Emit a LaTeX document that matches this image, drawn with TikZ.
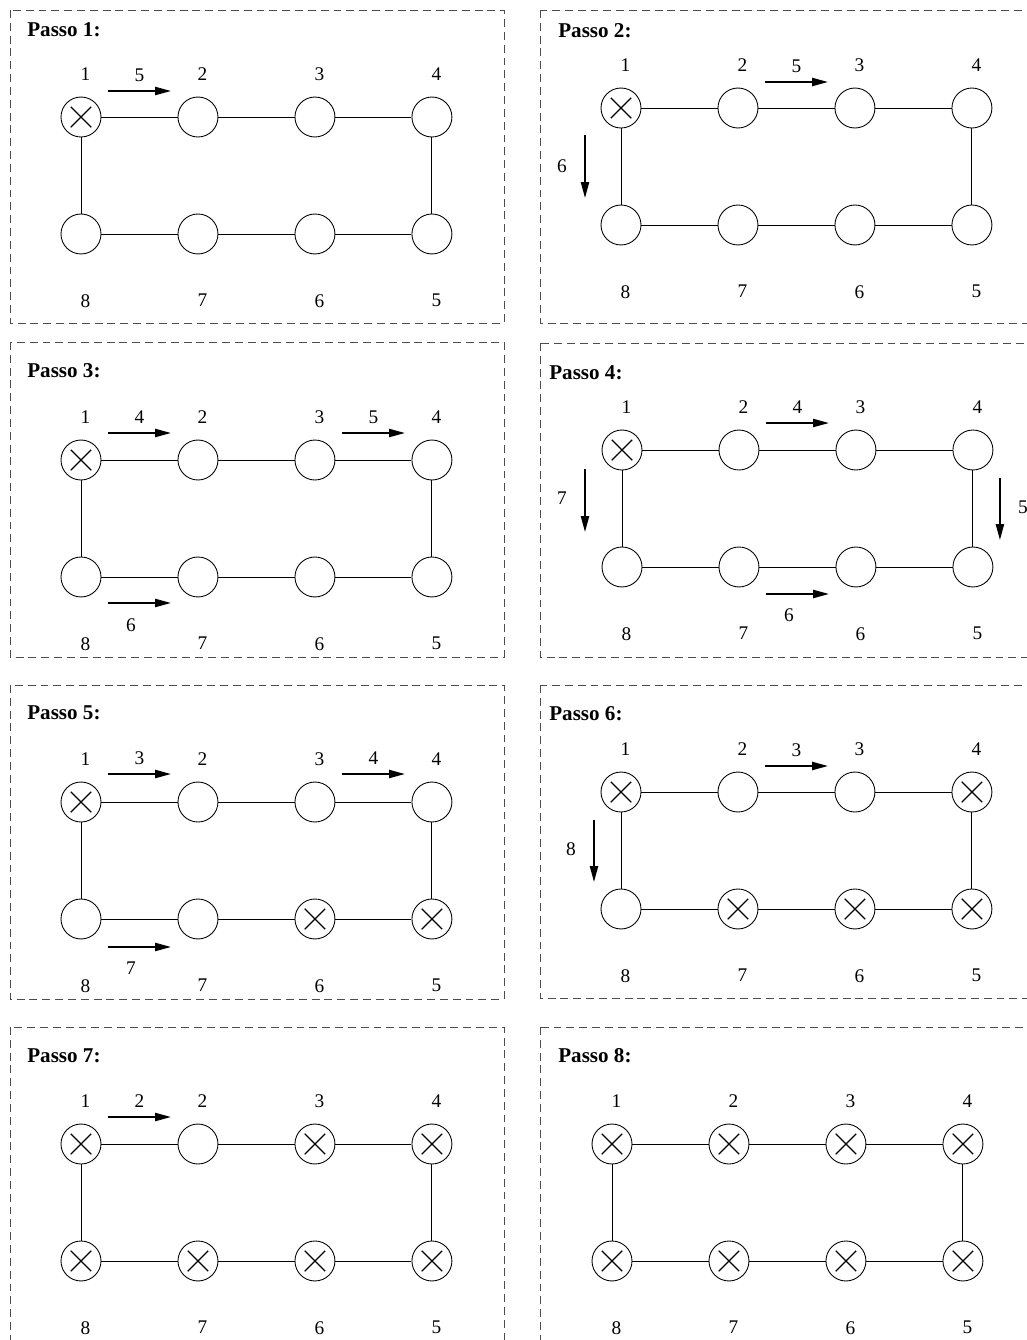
\documentclass[tikz,border=0pt]{standalone}
\usepackage{fontspec}
\setmainfont{Liberation Serif}
\usepackage{tikz}
\usetikzlibrary{positioning, arrows.meta}
\definecolor{framegray}{HTML}{4D4D4D}

\begin{document}
\begin{tikzpicture}[
    x=0.02cm, y=-0.02cm,
    node distance=2.34cm, on grid,
    ring/.style={draw, circle, minimum size=0.8cm, inner sep=0pt, line width=0.5pt},
    done/.style={ring, path picture={
        \draw[line width=0.7pt]
            ([shift={(-0.205cm,-0.205cm)}]path picture bounding box.center) -- ([shift={(0.205cm,0.205cm)}]path picture bounding box.center)
            ([shift={(-0.205cm,0.205cm)}]path picture bounding box.center) -- ([shift={(0.205cm,-0.205cm)}]path picture bounding box.center);}},
    toplbl/.style={font=\fontsize{11}{13}\selectfont, inner sep=0pt, xshift=0.09cm, yshift=0.31cm},
    botlbl/.style={font=\fontsize{11}{13}\selectfont, inner sep=0pt, xshift=0.09cm, yshift=-0.79cm},
    steplbl/.style={font=\fontsize{11}{13}\selectfont, inner sep=0pt},
    title/.style={font=\fontsize{12}{14}\selectfont\bfseries, anchor=west, inner sep=0pt},
    frame/.style={draw=framegray, dash pattern=on 4.5pt off 2.8pt, line width=0.5pt},
    link/.style={line width=0.5pt},
    move/.style={-{Triangle[length=9pt, width=4.6pt]}, line width=1pt},
]
\useasboundingbox (0,0) rectangle (1027,1340);
\clip (0,0) rectangle (1027,1340);

% ============================================================
% Passo 1
% ============================================================
\draw[frame] (10,10) rectangle (504,323);
\node[title] (p1-title) at (27,30) {Passo 1:};
\node[done, label={[toplbl, name=p1-t1]above:1}] (p1-n1) at (81,117) {};
\node[ring, right=of p1-n1, label={[toplbl, name=p1-t2]above:2}] (p1-n2) {};
\node[ring, right=of p1-n2, label={[toplbl, name=p1-t3]above:3}] (p1-n3) {};
\node[ring, right=of p1-n3, label={[toplbl, name=p1-t4]above:4}] (p1-n4) {};
\node[ring, below=of p1-n4, label={[botlbl, name=p1-b5]below:5}] (p1-n5) {};
\node[ring, left=of p1-n5, label={[botlbl, name=p1-b6]below:6}] (p1-n6) {};
\node[ring, left=of p1-n6, label={[botlbl, name=p1-b7]below:7}] (p1-n7) {};
\node[ring, left=of p1-n7, label={[botlbl, name=p1-b8]below:8}] (p1-n8) {};
\draw[link] (p1-n1) -- (p1-n2) -- (p1-n3) -- (p1-n4) -- (p1-n5) -- (p1-n6) -- (p1-n7) -- (p1-n8) -- (p1-n1);
\draw[move] ([shift={(27,-26)}]p1-n1.center) -- ([shift={(90,-26)}]p1-n1.center)
    node[steplbl, midway, yshift=0.31cm] (p1-m1) {5};

% ============================================================
% Passo 2
% ============================================================
\draw[frame] (540,10) rectangle (1045,323);
\node[title] (p2-title) at (558,31) {Passo 2:};
\node[done, label={[toplbl, name=p2-t1]above:1}] (p2-n1) at (621,108) {};
\node[ring, right=of p2-n1, label={[toplbl, name=p2-t2]above:2}] (p2-n2) {};
\node[ring, right=of p2-n2, label={[toplbl, name=p2-t3]above:3}] (p2-n3) {};
\node[ring, right=of p2-n3, label={[toplbl, name=p2-t4]above:4}] (p2-n4) {};
\node[ring, below=of p2-n4, label={[botlbl, name=p2-b5]below:5}] (p2-n5) {};
\node[ring, left=of p2-n5, label={[botlbl, name=p2-b6]below:6}] (p2-n6) {};
\node[ring, left=of p2-n6, label={[botlbl, name=p2-b7]below:7}] (p2-n7) {};
\node[ring, left=of p2-n7, label={[botlbl, name=p2-b8]below:8}] (p2-n8) {};
\draw[link] (p2-n1) -- (p2-n2) -- (p2-n3) -- (p2-n4) -- (p2-n5) -- (p2-n6) -- (p2-n7) -- (p2-n8) -- (p2-n1);
\draw[move] ([shift={(27,-26)}]p2-n2.center) -- ([shift={(90,-26)}]p2-n2.center)
    node[steplbl, midway, yshift=0.31cm] (p2-m1) {5};
\draw[move] ([shift={(-36,27)}]p2-n1.center) -- ([shift={(-36,90)}]p2-n1.center)
    node[steplbl, midway, xshift=-0.46cm] (p2-m2) {6};

% ============================================================
% Passo 3
% ============================================================
\draw[frame] (10,342) rectangle (504,657);
\node[title] (p3-title) at (27,371) {Passo 3:};
\node[done, label={[toplbl, name=p3-t1]above:1}] (p3-n1) at (81,460) {};
\node[ring, right=of p3-n1, label={[toplbl, name=p3-t2]above:2}] (p3-n2) {};
\node[ring, right=of p3-n2, label={[toplbl, name=p3-t3]above:3}] (p3-n3) {};
\node[ring, right=of p3-n3, label={[toplbl, name=p3-t4]above:4}] (p3-n4) {};
\node[ring, below=of p3-n4, label={[botlbl, name=p3-b5]below:5}] (p3-n5) {};
\node[ring, left=of p3-n5, label={[botlbl, name=p3-b6]below:6}] (p3-n6) {};
\node[ring, left=of p3-n6, label={[botlbl, name=p3-b7]below:7}] (p3-n7) {};
\node[ring, left=of p3-n7, label={[botlbl, name=p3-b8]below:8}] (p3-n8) {};
\draw[link] (p3-n1) -- (p3-n2) -- (p3-n3) -- (p3-n4) -- (p3-n5) -- (p3-n6) -- (p3-n7) -- (p3-n8) -- (p3-n1);
\draw[move] ([shift={(27,-27)}]p3-n1.center) -- ([shift={(90,-27)}]p3-n1.center)
    node[steplbl, midway, yshift=0.31cm] (p3-m1) {4};
\draw[move] ([shift={(27,-27)}]p3-n3.center) -- ([shift={(90,-27)}]p3-n3.center)
    node[steplbl, midway, yshift=0.31cm] (p3-m2) {5};
\draw[move] ([shift={(27,26)}]p3-n8.center) -- ([shift={(90,26)}]p3-n8.center)
    node[steplbl, midway, xshift=-0.17cm, yshift=-0.44cm] (p3-m3) {6};

% ============================================================
% Passo 4
% ============================================================
\draw[frame] (540,343) rectangle (1045,657);
\node[title] (p4-title) at (549,373) {Passo 4:};
\node[done, label={[toplbl, name=p4-t1]above:1}] (p4-n1) at (622,450) {};
\node[ring, right=of p4-n1, label={[toplbl, name=p4-t2]above:2}] (p4-n2) {};
\node[ring, right=of p4-n2, label={[toplbl, name=p4-t3]above:3}] (p4-n3) {};
\node[ring, right=of p4-n3, label={[toplbl, name=p4-t4]above:4}] (p4-n4) {};
\node[ring, below=of p4-n4, label={[botlbl, name=p4-b5]below:5}] (p4-n5) {};
\node[ring, left=of p4-n5, label={[botlbl, name=p4-b6]below:6}] (p4-n6) {};
\node[ring, left=of p4-n6, label={[botlbl, name=p4-b7]below:7}] (p4-n7) {};
\node[ring, left=of p4-n7, label={[botlbl, name=p4-b8]below:8}] (p4-n8) {};
\draw[link] (p4-n1) -- (p4-n2) -- (p4-n3) -- (p4-n4) -- (p4-n5) -- (p4-n6) -- (p4-n7) -- (p4-n8) -- (p4-n1);
\draw[move] ([shift={(27,-27)}]p4-n2.center) -- ([shift={(90,-27)}]p4-n2.center)
    node[steplbl, midway, yshift=0.31cm] (p4-m1) {4};
\draw[move] ([shift={(-37,19)}]p4-n1.center) -- ([shift={(-37,82)}]p4-n1.center)
    node[steplbl, midway, xshift=-0.46cm, yshift=0.05cm] (p4-m2) {7};
\draw[move] ([shift={(27,28)}]p4-n4.center) -- ([shift={(27,90)}]p4-n4.center)
    node[steplbl, midway, xshift=0.46cm, yshift=0.04cm] (p4-m3) {5};
\draw[move] ([shift={(27,27)}]p4-n7.center) -- ([shift={(90,27)}]p4-n7.center)
    node[steplbl, midway, xshift=-0.17cm, yshift=-0.42cm] (p4-m4) {6};

% ============================================================
% Passo 5
% ============================================================
\draw[frame] (10,685) rectangle (504,999);
\node[title] (p5-title) at (27,713) {Passo 5:};
\node[done, label={[toplbl, name=p5-t1]above:1}] (p5-n1) at (81,802) {};
\node[ring, right=of p5-n1, label={[toplbl, name=p5-t2]above:2}] (p5-n2) {};
\node[ring, right=of p5-n2, label={[toplbl, name=p5-t3]above:3}] (p5-n3) {};
\node[ring, right=of p5-n3, label={[toplbl, name=p5-t4]above:4}] (p5-n4) {};
\node[done, below=of p5-n4, label={[botlbl, name=p5-b5]below:5}] (p5-n5) {};
\node[done, left=of p5-n5, label={[botlbl, name=p5-b6]below:6}] (p5-n6) {};
\node[ring, left=of p5-n6, label={[botlbl, name=p5-b7]below:7}] (p5-n7) {};
\node[ring, left=of p5-n7, label={[botlbl, name=p5-b8]below:8}] (p5-n8) {};
\draw[link] (p5-n1) -- (p5-n2) -- (p5-n3) -- (p5-n4) -- (p5-n5) -- (p5-n6) -- (p5-n7) -- (p5-n8) -- (p5-n1);
\draw[move] ([shift={(27,-28)}]p5-n1.center) -- ([shift={(90,-28)}]p5-n1.center)
    node[steplbl, midway, yshift=0.31cm] (p5-m1) {3};
\draw[move] ([shift={(27,-28)}]p5-n3.center) -- ([shift={(90,-28)}]p5-n3.center)
    node[steplbl, midway, yshift=0.31cm] (p5-m2) {4};
\draw[move] ([shift={(27,28)}]p5-n8.center) -- ([shift={(90,28)}]p5-n8.center)
    node[steplbl, midway, xshift=-0.17cm, yshift=-0.42cm] (p5-m3) {7};

% ============================================================
% Passo 6
% ============================================================
\draw[frame] (540,685) rectangle (1045,998);
\node[title] (p6-title) at (549,714) {Passo 6:};
\node[done, label={[toplbl, name=p6-t1]above:1}] (p6-n1) at (621,792) {};
\node[ring, right=of p6-n1, label={[toplbl, name=p6-t2]above:2}] (p6-n2) {};
\node[ring, right=of p6-n2, label={[toplbl, name=p6-t3]above:3}] (p6-n3) {};
\node[done, right=of p6-n3, label={[toplbl, name=p6-t4]above:4}] (p6-n4) {};
\node[done, below=of p6-n4, label={[botlbl, name=p6-b5]below:5}] (p6-n5) {};
\node[done, left=of p6-n5, label={[botlbl, name=p6-b6]below:6}] (p6-n6) {};
\node[done, left=of p6-n6, label={[botlbl, name=p6-b7]below:7}] (p6-n7) {};
\node[ring, left=of p6-n7, label={[botlbl, name=p6-b8]below:8}] (p6-n8) {};
\draw[link] (p6-n1) -- (p6-n2) -- (p6-n3) -- (p6-n4) -- (p6-n5) -- (p6-n6) -- (p6-n7) -- (p6-n8) -- (p6-n1);
\draw[move] ([shift={(27,-26)}]p6-n2.center) -- ([shift={(90,-26)}]p6-n2.center)
    node[steplbl, midway, yshift=0.31cm] (p6-m1) {3};
\draw[move] ([shift={(-27,28)}]p6-n1.center) -- ([shift={(-27,90)}]p6-n1.center)
    node[steplbl, midway, xshift=-0.46cm, yshift=0.04cm] (p6-m2) {8};

% ============================================================
% Passo 7
% ============================================================
\draw[frame] (10,1027) rectangle (504,1360);
\node[title] (p7-title) at (27,1056) {Passo 7:};
\node[done, label={[toplbl, name=p7-t1]above:1}] (p7-n1) at (81,1144) {};
\node[ring, right=of p7-n1, label={[toplbl, name=p7-t2]above:2}] (p7-n2) {};
\node[done, right=of p7-n2, label={[toplbl, name=p7-t3]above:3}] (p7-n3) {};
\node[done, right=of p7-n3, label={[toplbl, name=p7-t4]above:4}] (p7-n4) {};
\node[done, below=of p7-n4, label={[botlbl, name=p7-b5]below:5}] (p7-n5) {};
\node[done, left=of p7-n5, label={[botlbl, name=p7-b6]below:6}] (p7-n6) {};
\node[done, left=of p7-n6, label={[botlbl, name=p7-b7]below:7}] (p7-n7) {};
\node[done, left=of p7-n7, label={[botlbl, name=p7-b8]below:8}] (p7-n8) {};
\draw[link] (p7-n1) -- (p7-n2) -- (p7-n3) -- (p7-n4) -- (p7-n5) -- (p7-n6) -- (p7-n7) -- (p7-n8) -- (p7-n1);
\draw[move] ([shift={(27,-27)}]p7-n1.center) -- ([shift={(90,-27)}]p7-n1.center)
    node[steplbl, midway, yshift=0.31cm] (p7-m1) {2};

% ============================================================
% Passo 8
% ============================================================
\draw[frame] (540,1027) rectangle (1045,1360);
\node[title] (p8-title) at (558,1056) {Passo 8:};
\node[done, label={[toplbl, name=p8-t1]above:1}] (p8-n1) at (612,1144) {};
\node[done, right=of p8-n1, label={[toplbl, name=p8-t2]above:2}] (p8-n2) {};
\node[done, right=of p8-n2, label={[toplbl, name=p8-t3]above:3}] (p8-n3) {};
\node[done, right=of p8-n3, label={[toplbl, name=p8-t4]above:4}] (p8-n4) {};
\node[done, below=of p8-n4, label={[botlbl, name=p8-b5]below:5}] (p8-n5) {};
\node[done, left=of p8-n5, label={[botlbl, name=p8-b6]below:6}] (p8-n6) {};
\node[done, left=of p8-n6, label={[botlbl, name=p8-b7]below:7}] (p8-n7) {};
\node[done, left=of p8-n7, label={[botlbl, name=p8-b8]below:8}] (p8-n8) {};
\draw[link] (p8-n1) -- (p8-n2) -- (p8-n3) -- (p8-n4) -- (p8-n5) -- (p8-n6) -- (p8-n7) -- (p8-n8) -- (p8-n1);

\end{tikzpicture}
\end{document}
